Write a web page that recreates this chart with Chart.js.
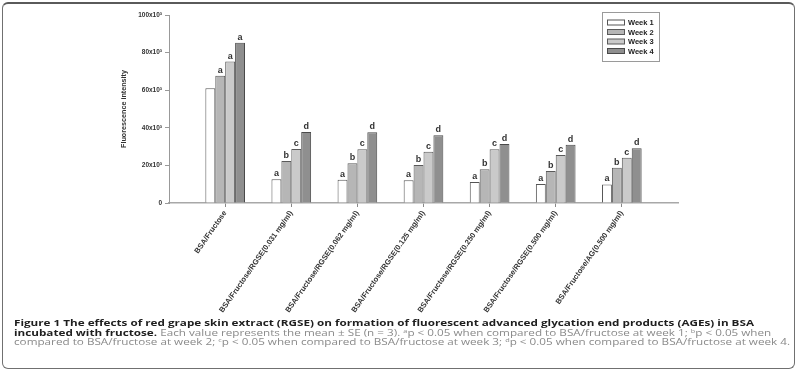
<!DOCTYPE html>
<html>
<head>
<meta charset="utf-8">
<script src="https://cdn.jsdelivr.net/npm/chart.js@4/dist/chart.umd.min.js"></script>
<style>
  html, body { margin: 0; padding: 0; background: #fff; width: 799px; height: 371px; overflow: hidden; }
  #frame { position: absolute; left: 2px; top: 2px; width: 791px; height: 364px; border: 1.5px solid #707070; border-top: 2px solid #5a5a5a; border-radius: 6px; }
  #c { position: absolute; left: 0; top: 0; }
  #caption { position: absolute; left: 14px; top: 318px; font-family: "Open Sans", sans-serif; font-size: 9.6px; line-height: 9.6px; color: #8a8a8a; transform-origin: 0 0; white-space: nowrap; }
  #caption div { display: block; }
  #caption b { color: #1e1e1e; font-weight: 700; }
  #caption sup { font-size: 6px; line-height: 0; vertical-align: 3px; }
  #l1 { display: inline-block !important; }
</style>
</head>
<body>
<div id="frame"></div>
<canvas id="c" width="799" height="330"></canvas>
<div id="caption">
  <div><span id="l1"><b>Figure 1 The effects of red grape skin extract (RGSE) on formation of fluorescent advanced glycation end products (AGEs) in BSA</b></span></div>
  <div><b>incubated with fructose.</b> Each value represents the mean ± SE (n = 3). <sup>a</sup>p &lt; 0.05 when compared to BSA/fructose at week 1; <sup>b</sup>p &lt; 0.05 when</div>
  <div>compared to BSA/fructose at week 2; <sup>c</sup>p &lt; 0.05 when compared to BSA/fructose at week 3; <sup>d</sup>p &lt; 0.05 when compared to BSA/fructose at week 4.</div>
</div>
<script>
// ---- data ----
const categories = [
  "BSA/Fructose",
  "BSA/Fructose/RGSE(0.031 mg/ml)",
  "BSA/Fructose/RGSE(0.062 mg/ml)",
  "BSA/Fructose/RGSE(0.125 mg/ml)",
  "BSA/Fructose/RGSE(0.250 mg/ml)",
  "BSA/Fructose/RGSE(0.500 mg/ml)",
  "BSA/Fructose/AG(0.500 mg/ml)"
];
const seriesNames = ["Week 1", "Week 2", "Week 3", "Week 4"];
const week1 = [61000, 12600, 12400, 12100, 11200, 10100, 9900];
const week2 = [67700, 22300, 21100, 20200, 17900, 17000, 18800];
const week3 = [75200, 28700, 28600, 27300, 28600, 25500, 24100];
const week4 = [85300, 37800, 37600, 36000, 31400, 31000, 29100];
const letters1 = ["", "a", "a", "a", "a", "a", "a"];
const letters2 = ["a", "b", "b", "b", "b", "b", "b"];
const letters3 = ["a", "c", "c", "c", "c", "c", "c"];
const letters4 = ["a", "d", "d", "d", "d", "d", "d"];
const yTickLabels = ["0", "20x10³", "40x10³", "60x10³", "80x10³", "100x10³"];
const yTitle = "Fluorescence intensity";

// ---- styles ----
const fills = ["#ffffff", "#b6b6b6", "#cacaca", "#8f8f8f"];
const borders = ["#555555", "#5a5a5a", "#5a5a5a", "#4a4a4a"];
const allLetters = [letters1, letters2, letters3, letters4];
const allValues = [week1, week2, week3, week4];

const letterPlugin = {
  id: "letters",
  afterDatasetsDraw(chart) {
    const ctx = chart.ctx;
    ctx.save();
    ctx.font = "bold 9px 'Liberation Sans', Arial, sans-serif";
    ctx.fillStyle = "#333";
    ctx.textAlign = "center";
    ctx.textBaseline = "bottom";
    chart.data.datasets.forEach((ds, i) => {
      const meta = chart.getDatasetMeta(i);
      meta.data.forEach((bar, j) => {
        const t = allLetters[i][j];
        if (t) ctx.fillText(t, bar.x, bar.y - 1);
      });
    });
    ctx.restore();
  }
};

const legendPlugin = {
  id: "boxLegend",
  afterDraw(chart) {
    const ctx = chart.ctx;
    ctx.save();
    ctx.strokeStyle = "#9a9a9a";
    ctx.lineWidth = 1;
    ctx.strokeRect(602.5, 12.5, 57, 49);
    ctx.font = "bold 7.5px 'Liberation Sans', Arial, sans-serif";
    ctx.textBaseline = "middle";
    ctx.textAlign = "left";
    chart.data.datasets.forEach((ds, i) => {
      const y = 22.5 + i * 9.5;
      ctx.fillStyle = ds.backgroundColor;
      ctx.fillRect(607, y - 2.5, 17, 5);
      ctx.strokeStyle = ds.borderColor;
      ctx.strokeRect(607.5, y - 2.5, 17, 5);
      ctx.fillStyle = "#222";
      ctx.fillText(ds.label, 628, y + 0.5);
    });
    ctx.restore();
  }
};

const datasets = seriesNames.map((name, i) => ({
  label: name,
  data: allValues[i],
  backgroundColor: fills[i],
  borderColor: borders[i],
  borderWidth: 1,
  borderSkipped: "bottom",
  categoryPercentage: 0.6,
  barPercentage: 1.0
}));

new Chart(document.getElementById("c"), {
  type: "bar",
  data: { labels: categories, datasets },
  plugins: [letterPlugin, legendPlugin],
  options: {
    responsive: false,
    animation: false,
    devicePixelRatio: 1,
    layout: { padding: { left: 120, right: 121, top: 15, bottom: 0 } },
    plugins: { legend: { display: false }, tooltip: { enabled: false } },
    scales: {
      x: {
        afterFit(s) { s.height = 127; },
        afterBuildTicks(s) { s._startValue = -0.85; s._valueRange = 7.7; },
        border: { display: true, color: "#a8a8a8", width: 1.5 },
        grid: { display: true, drawOnChartArea: false, drawTicks: true, tickLength: 4, offset: false, color: "#888" },
        ticks: {
          minRotation: 55, maxRotation: 55, autoSkip: false, padding: 2,
          color: "#333",
          font: { family: "'Liberation Sans', Arial, sans-serif", size: 7.6, weight: "bold" },
          callback: (v, i) => categories[i]
        }
      },
      y: {
        min: 0, max: 100000,
        afterFit(s) { s.width = 49; },
        border: { display: true, color: "#999", width: 1 },
        grid: { display: true, drawOnChartArea: false, drawTicks: true, tickLength: 4, color: "#999" },
        ticks: {
          stepSize: 20000, padding: 3, color: "#333",
          font: { family: "'Liberation Sans', Arial, sans-serif", size: 6.5, weight: "bold" },
          callback: (v, i) => yTickLabels[i]
        },
        title: {
          display: true, text: yTitle, color: "#333", padding: { top: 0, bottom: 0 },
          font: { family: "'Liberation Sans', Arial, sans-serif", size: 7.2, weight: "bold" }
        }
      }
    }
  }
});

// fit caption width (the reference text is horizontally stretched)
(function fitCaption() {
  const cap = document.getElementById("caption");
  const l1 = document.getElementById("l1");
  const w = l1.getBoundingClientRect().width;
  if (w > 0) cap.style.transform = "scaleX(" + (740 / w) + ")";
})();
</script>
</body>
</html>
